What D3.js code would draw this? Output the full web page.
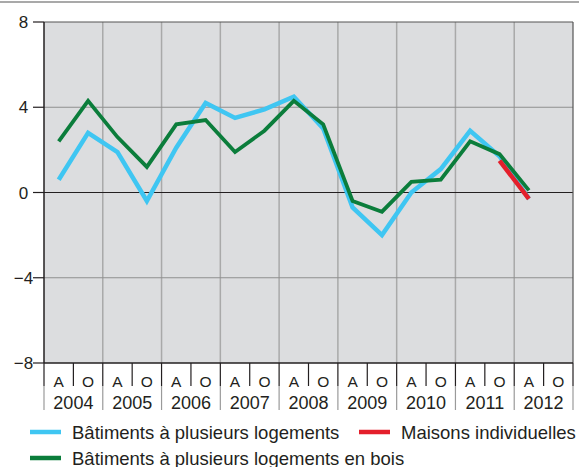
<!DOCTYPE html>
<html>
<head>
<meta charset="utf-8">
<script src="https://cdn.jsdelivr.net/npm/d3@7"></script>
<style>
  body { margin: 0; background: #fff; }
  svg { display: block; font-family: "Liberation Sans", Arial, sans-serif; }
</style>
</head>
<body>
<svg id="chart" width="579" height="467"></svg>
<script>
// années et semestres (A = avril, O = octobre)
const years = [2004, 2005, 2006, 2007, 2008, 2009, 2010, 2011, 2012];
const halves = ["A", "O"];
const yTicks = [8, 4, 0, -4, -8];

// points: 2004 A ... 2012 A
const periods = ["2004A","2004O","2005A","2005O","2006A","2006O","2007A","2007O",
  "2008A","2008O","2009A","2009O","2010A","2010O","2011A","2011O","2012A"];
const plusieurs = [0.6, 2.8, 1.9, -0.4, 2.1, 4.2, 3.5, 3.9, 4.5, 3.0, -0.7, -2.0, 0.0, 1.1, 2.9, 1.7, -0.3];
const bois = [2.4, 4.3, 2.6, 1.2, 3.2, 3.4, 1.9, 2.9, 4.3, 3.2, -0.4, -0.9, 0.5, 0.6, 2.4, 1.8, 0.1];
const maisonsPeriods = ["2011O", "2012A"];
const maisons = [1.5, -0.3];

const colBlue = "#3fc6f2", colGreen = "#0b7d3b", colRed = "#e41f2b";

const svg = d3.select("#chart");
const mLeft = 44, mRight = 573, mTop = 22, mBottom = 363;

// ligne grise tout en haut
svg.append("line").attr("x1", 0).attr("x2", 579).attr("y1", 2).attr("y2", 2)
  .attr("stroke", "#8c8c8c").attr("stroke-width", 1.5);

const x = d3.scaleLinear().domain([0, years.length]).range([mLeft, mRight]);
const y = d3.scaleLinear().domain([-8, 8]).range([mBottom, mTop]);
const xp = p => x(+p.slice(0, 4) - years[0] + (p[4] === "A" ? 0.25 : 0.75));

// fond
svg.append("rect").attr("x", mLeft).attr("y", mTop)
  .attr("width", mRight - mLeft).attr("height", mBottom - mTop).attr("fill", "#dcdddf");

// grille verticale (années)
svg.selectAll(".vgrid").data(d3.range(1, years.length)).join("line")
  .attr("x1", d => x(d)).attr("x2", d => x(d)).attr("y1", mTop).attr("y2", mBottom)
  .attr("stroke", "#a9a9a9").attr("stroke-width", 1.5);

// grille horizontale
svg.selectAll(".hgrid").data([4, -4]).join("line")
  .attr("x1", mLeft).attr("x2", mRight).attr("y1", d => y(d)).attr("y2", d => y(d))
  .attr("stroke", "#8f8f8f").attr("stroke-width", 1.2);
svg.append("line").attr("x1", mLeft).attr("x2", mRight).attr("y1", y(0)).attr("y2", y(0))
  .attr("stroke", "#231f20").attr("stroke-width", 1.2);

// cadre
svg.append("line").attr("x1", mLeft).attr("x2", mRight).attr("y1", mTop).attr("y2", mTop)
  .attr("stroke", "#555").attr("stroke-width", 1.2);
svg.append("line").attr("x1", mRight).attr("x2", mRight).attr("y1", mTop).attr("y2", mBottom)
  .attr("stroke", "#555").attr("stroke-width", 1.2);
svg.append("line").attr("x1", mLeft).attr("x2", mRight).attr("y1", mBottom).attr("y2", mBottom)
  .attr("stroke", "#231f20").attr("stroke-width", 1.5);
svg.append("line").attr("x1", mLeft).attr("x2", mLeft).attr("y1", mTop).attr("y2", mBottom)
  .attr("stroke", "#231f20").attr("stroke-width", 1.5);

// axe y
const yAxis = svg.append("g");
yAxis.selectAll("line").data(yTicks).join("line")
  .attr("x1", mLeft - 11).attr("x2", mLeft).attr("y1", d => y(d)).attr("y2", d => y(d))
  .attr("stroke", "#231f20").attr("stroke-width", 1.2);
yAxis.selectAll("text").data(yTicks).join("text")
  .attr("x", 23.5).attr("y", d => y(d)).attr("dy", "0.36em")
  .attr("text-anchor", "middle").attr("font-size", 17).attr("fill", "#231f20")
  .text(d => d < 0 ? "\u2212" + Math.abs(d) : d);

// axe x : séparateurs et libellés
const bandA = mBottom + 23, bandY = mBottom + 47;
svg.selectAll(".ysepDark").data(d3.range(0, years.length + 1)).join("line")
  .attr("x1", d => x(d)).attr("x2", d => x(d)).attr("y1", mBottom).attr("y2", bandA)
  .attr("stroke", "#231f20").attr("stroke-width", 1.2);
svg.selectAll(".ysepLight").data(d3.range(0, years.length + 1)).join("line")
  .attr("x1", d => x(d)).attr("x2", d => x(d)).attr("y1", bandA).attr("y2", bandY)
  .attr("stroke", "#9a9a9a").attr("stroke-width", 1.2);
svg.selectAll(".hsep").data(d3.range(0, years.length)).join("line")
  .attr("x1", d => x(d + 0.5)).attr("x2", d => x(d + 0.5)).attr("y1", mBottom).attr("y2", bandA)
  .attr("stroke", "#231f20").attr("stroke-width", 1.2);

const halfLabels = years.flatMap((yr, i) => halves.map((h, j) => ({ h, pos: i + 0.25 + j * 0.5 })));
svg.selectAll(".hlab").data(halfLabels).join("text")
  .attr("x", d => x(d.pos)).attr("y", mBottom + 23.5)
  .attr("text-anchor", "middle").attr("font-size", 15.5).attr("fill", "#231f20")
  .text(d => d.h);
svg.selectAll(".ylab").data(years).join("text")
  .attr("x", (d, i) => x(i + 0.5)).attr("y", mBottom + 46)
  .attr("text-anchor", "middle").attr("font-size", 18).attr("fill", "#231f20")
  .text(d => d);

// courbes
const line = d3.line().x(d => xp(d[0])).y(d => y(d[1]));
svg.append("path").datum(d3.zip(periods, plusieurs)).attr("d", line)
  .attr("fill", "none").attr("stroke", colBlue).attr("stroke-width", 4.5)
  .attr("stroke-linejoin", "miter");
svg.append("path").datum(d3.zip(periods, bois)).attr("d", line)
  .attr("fill", "none").attr("stroke", colGreen).attr("stroke-width", 3.8)
  .attr("stroke-linejoin", "miter");
svg.append("path").datum(d3.zip(maisonsPeriods, maisons)).attr("d", line)
  .attr("fill", "none").attr("stroke", colRed).attr("stroke-width", 4.5);

// légende
const legend = [
  { label: "Bâtiments à plusieurs logements", color: colBlue, x: 30, y: 432 },
  { label: "Maisons individuelles", color: colRed, x: 359, y: 432 },
  { label: "Bâtiments à plusieurs logements en bois", color: colGreen, x: 30, y: 458 }
];
const lg = svg.selectAll(".leg").data(legend).join("g")
  .attr("transform", d => `translate(${d.x},${d.y})`);
lg.append("line").attr("x1", 0).attr("x2", 31).attr("y1", 0).attr("y2", 0)
  .attr("stroke", d => d.color).attr("stroke-width", 4.5);
lg.append("text").attr("x", 42).attr("dy", "0.36em").attr("font-size", 18.5)
  .attr("fill", "#231f20").text(d => d.label);
</script>
</body>
</html>
